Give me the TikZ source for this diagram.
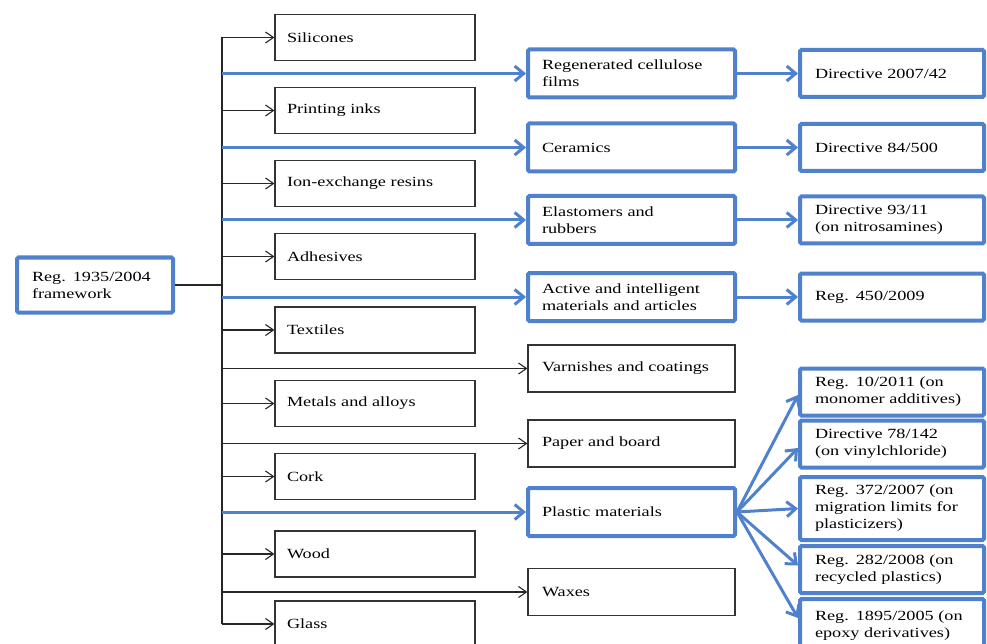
\documentclass[tikz,border=0pt]{standalone}
\usepackage{fontspec}
\setmainfont{Liberation Serif}[FakeStretch=1.3]
\usetikzlibrary{arrows.meta}
\definecolor{bblue}{RGB}{79,129,205}
\begin{document}
\begin{tikzpicture}[x=1pt,y=-1pt,
  every node/.style={font=\fontsize{14}{17}\selectfont, inner ysep=0pt},
  lbox/.style={draw=black!80, line width=1.1pt, minimum height=46pt, text width=176pt, inner xsep=12pt, align=left},
  mbox/.style={draw=black!80, line width=1.1pt, minimum height=47pt, text width=179pt, inner xsep=14pt, align=left},
  mblue/.style={draw=bblue, line width=4pt, rounded corners=1.5pt, minimum height=48pt, text width=179pt, inner xsep=14pt, align=left},
  rblue/.style={draw=bblue, line width=4pt, rounded corners=1.5pt, minimum height=47pt, text width=154pt, inner xsep=15pt, align=left},
  barrow/.style={draw=black!85, line width=1.1pt, -{Straight Barb[length=8pt,width=11pt,line width=1.1pt]}},
  bline/.style={draw=black!85, line width=1.1pt},
  blarrow/.style={draw=bblue, line width=3pt, -{Straight Barb[length=9pt,width=15pt,line width=3pt]}},
]
\useasboundingbox (0,0) rectangle (987,644);

% root
\node[draw=bblue, line width=4pt, rounded corners=1.5pt, minimum height=55pt, text width=126pt, inner xsep=15pt, align=left] (root) at (95,285) {Reg. 1935/2004\\framework};

% left column
\node[lbox] (sil) at (375,37.5) {Silicones};
\node[lbox] (ink) at (375,110.5) {Printing inks};
\node[lbox] (ion) at (375,183.5) {Ion-exchange resins};
\node[lbox] (adh) at (375,256.5) {Adhesives};
\node[lbox] (tex) at (375,330) {Textiles};
\node[lbox] (met) at (375,403.5) {Metals and alloys};
\node[lbox] (cork) at (375,476.5) {Cork};
\node[lbox] (wood) at (375,554) {Wood};
\node[lbox] (glass) at (375,624) {Glass};

% middle column
\node[mblue] (regen) at (631.5,73.5) {Regenerated cellulose\\films};
\node[mblue] (cer) at (631.5,147.5) {Ceramics};
\node[mblue] (elas) at (631.5,220) {Elastomers and\\rubbers};
\node[mblue] (act) at (631.5,297) {Active and intelligent\\materials and articles};
\node[mbox] (varn) at (631.5,368.5) {Varnishes and coatings};
\node[mbox] (paper) at (631.5,443.5) {Paper and board};
\node[mblue] (plast) at (631.5,512) {Plastic materials};
\node[mbox] (wax) at (631.5,592) {Waxes};

% right column
\node[rblue] (d1) at (892,73.5) {Directive 2007/42};
\node[rblue] (d2) at (892,147.5) {Directive 84/500};
\node[rblue] (d3) at (892,220) {Directive 93/11\\(on nitrosamines)};
\node[rblue] (r450) at (892,297) {Reg. 450/2009};
\node[rblue] (r10) at (892,392) {Reg. 10/2011 (on\\monomer additives)};
\node[rblue] (d78) at (892,444) {Directive 78/142\\(on vinylchloride)};
\node[rblue, minimum height=63pt] (r372) at (892,508.5) {Reg. 372/2007 (on\\migration limits for\\plasticizers)};
\node[rblue] (r282) at (892,569.5) {Reg. 282/2008 (on\\recycled plastics)};
\node[rblue, minimum height=54pt] (r1895) at (892,626) {Reg. 1895/2005 (on\\epoxy derivatives)};

% trunk
\coordinate (trunk) at (222,0);
\draw[bline] (trunk |- sil.west) -- (trunk |- glass.west);
\draw[bline] (root.east) -- (trunk |- root.east);

% trunk to left boxes
\foreach \n in {sil,ink,ion,adh,tex,met,cork,wood,glass}
  \draw[barrow] (trunk |- \n.west) -- (\n.west);

% trunk to middle boxes
\foreach \n in {regen,cer,elas,act,plast}
  \draw[blarrow] (trunk |- \n.west) -- (\n.west);
\foreach \n in {varn,paper,wax}
  \draw[barrow] (trunk |- \n.west) -- (\n.west);

% middle to right
\draw[blarrow] (regen.east) -- (d1.west);
\draw[blarrow] (cer.east) -- (d2.west);
\draw[blarrow] (elas.east) -- (d3.west);
\draw[blarrow] (act.east) -- (r450.west);

% fan from plastic materials
\draw[blarrow] (plast.east) -- ([yshift=-3pt]r10.west);
\draw[blarrow] (plast.east) -- ([yshift=-4pt]d78.west);
\draw[blarrow] (plast.east) -- (r372.west);
\draw[blarrow] (plast.east) -- ([yshift=4pt]r282.west);
\draw[blarrow] (plast.east) -- ([yshift=8pt]r1895.west);
\end{tikzpicture}
\end{document}
